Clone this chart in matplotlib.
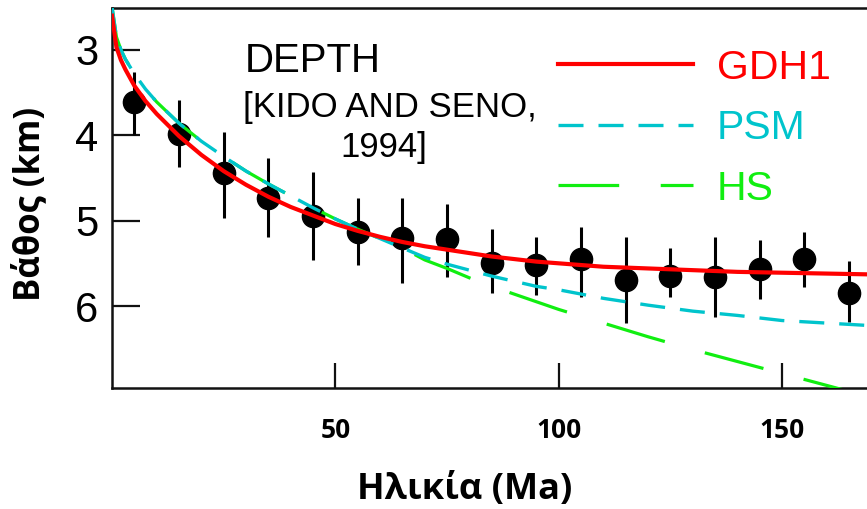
import matplotlib
matplotlib.use("Agg")
import matplotlib.pyplot as plt
import numpy as np

# ---- data ----
ages = [5, 15, 25, 35, 45, 55, 65, 75, 85, 95, 105, 115, 125, 135, 145, 155, 165]
depths = [3.61, 3.98, 4.44, 4.74, 4.95, 5.13, 5.20, 5.22, 5.50, 5.52, 5.45, 5.70, 5.65, 5.66, 5.57, 5.45, 5.85]
depth_low = [3.26, 3.59, 3.96, 4.27, 4.43, 4.74, 4.74, 4.80, 5.10, 5.19, 5.08, 5.19, 5.32, 5.19, 5.23, 5.13, 5.47]
depth_high = [4.00, 4.37, 4.97, 5.19, 5.46, 5.52, 5.73, 5.66, 5.85, 5.87, 5.89, 6.20, 5.89, 6.13, 5.92, 5.78, 6.19]

model_age = [0, 1, 2, 3, 5, 7.5, 10, 15, 20, 25, 30, 35, 40, 45, 50, 55, 60, 65, 70, 75,
             80, 85, 90, 95, 100, 110, 120, 130, 140, 150, 160, 170]
gdh1 = [2.60, 2.97, 3.12, 3.23, 3.42, 3.60, 3.75, 4.01, 4.23, 4.42, 4.58, 4.72, 4.84, 4.94,
        5.04, 5.12, 5.19, 5.25, 5.30, 5.34, 5.38, 5.42, 5.45, 5.48, 5.50, 5.54, 5.56, 5.58,
        5.60, 5.61, 5.62, 5.63]
psm = [2.50, 2.85, 3.00, 3.11, 3.28, 3.46, 3.61, 3.86, 4.07, 4.25, 4.42, 4.57, 4.71, 4.85,
       4.98, 5.10, 5.21, 5.32, 5.43, 5.51, 5.58, 5.65, 5.71, 5.77, 5.81, 5.91, 5.99, 6.06,
       6.11, 6.17, 6.20, 6.23]
hs = [2.50, 2.85, 3.00, 3.11, 3.28, 3.46, 3.61, 3.86, 4.07, 4.25, 4.42, 4.57, 4.71, 4.85,
      4.98, 5.10, 5.21, 5.32, 5.46, 5.56, 5.67, 5.77, 5.86, 5.95, 6.04, 6.20, 6.36, 6.51,
      6.65, 6.79, 6.93, 7.07]

model_labels = ["GDH1", "PSM", "HS"]
x_ticks = [50, 100, 150]
y_ticks = [3, 4, 5, 6]
x_label = "Ηλικία (Ma)"
y_label = "Βάθος (km)"
note_lines = ["DEPTH", "[KIDO AND SENO,", "1994]"]

plain = ["Liberation Sans", "DejaVu Sans"]
bold_font = ["Open Sans", "DejaVu Sans"]

fig = plt.figure(figsize=(8.67, 5.09), dpi=100)
ax = fig.add_axes([112 / 867, 1 - 388 / 509, 1 - 112 / 867, 380 / 509])

ages_a = np.array(ages)
d = np.array(depths)
yerr = [d - np.array(depth_low), np.array(depth_high) - d]
ax.errorbar(ages_a, d, yerr=yerr, fmt="o", color="black", ms=16, elinewidth=2.2,
            capsize=0, zorder=2)

ax.plot(model_age, hs, color="#11ee11", lw=2.3, dashes=(19, 13), label=model_labels[2], zorder=3)
ax.plot(model_age, psm, color="#00c4cc", lw=2.4, dashes=(7.5, 4.5), label=model_labels[1], zorder=4)
ax.plot(model_age, gdh1, color="#ff0000", lw=3.0, label=model_labels[0], zorder=5)

ax.set_xlim(0, 169)
ax.set_ylim(6.96, 2.51)

ax.set_xticks(x_ticks)
ax.set_yticks(y_ticks)
ax.tick_params(axis="x", direction="in", length=18, width=1.6, pad=21,
               labelsize=19, color="#111111")
ax.tick_params(axis="y", direction="in", length=20, width=1.6, pad=10,
               labelsize=30, color="#111111")
for lab in ax.get_xticklabels():
    lab.set_fontfamily(bold_font)
    lab.set_fontweight("bold")
for lab in ax.get_yticklabels():
    lab.set_fontfamily(plain)

for side in ["left", "bottom", "top"]:
    ax.spines[side].set_linewidth(1.8)
    ax.spines[side].set_color("#111111")
ax.spines["right"].set_visible(False)

ax.set_xlabel(x_label, fontsize=26, fontweight="bold", family=bold_font)
ax.set_ylabel(y_label, fontsize=25, fontweight="bold", family=bold_font)
ax.xaxis.set_label_coords((465 - 112) / 755, -0.22)
ax.yaxis.set_label_coords(-0.085, 0.485)

ax.text(0.176, 0.832, note_lines[0], transform=ax.transAxes, fontsize=29,
        family=plain, va="baseline", ha="left")
ax.text(0.173, 0.713, note_lines[1], transform=ax.transAxes, fontsize=25,
        family=plain, va="baseline", ha="left")
ax.text(0.302, 0.608, note_lines[2], transform=ax.transAxes, fontsize=25,
        family=plain, va="baseline", ha="left")

handles, labels = ax.get_legend_handles_labels()
order = [labels.index(l) for l in model_labels]
leg_fs = 29.5
leg_px = leg_fs * 100 / 72
leg = ax.legend([handles[i] for i in order], [labels[i] for i in order],
                loc="upper left", bbox_to_anchor=((558 - 112) / 755, 0.893),
                frameon=False, prop={"family": plain, "size": leg_fs},
                handlelength=135 / leg_px, handletextpad=24 / leg_px, labelspacing=0.55,
                borderpad=0, borderaxespad=0)
colors = ["#ff0000", "#00c4cc", "#11ee11"]
for t, c in zip(leg.get_texts(), colors):
    t.set_color(c)

fig.savefig("out.png", dpi=100, facecolor="white")
